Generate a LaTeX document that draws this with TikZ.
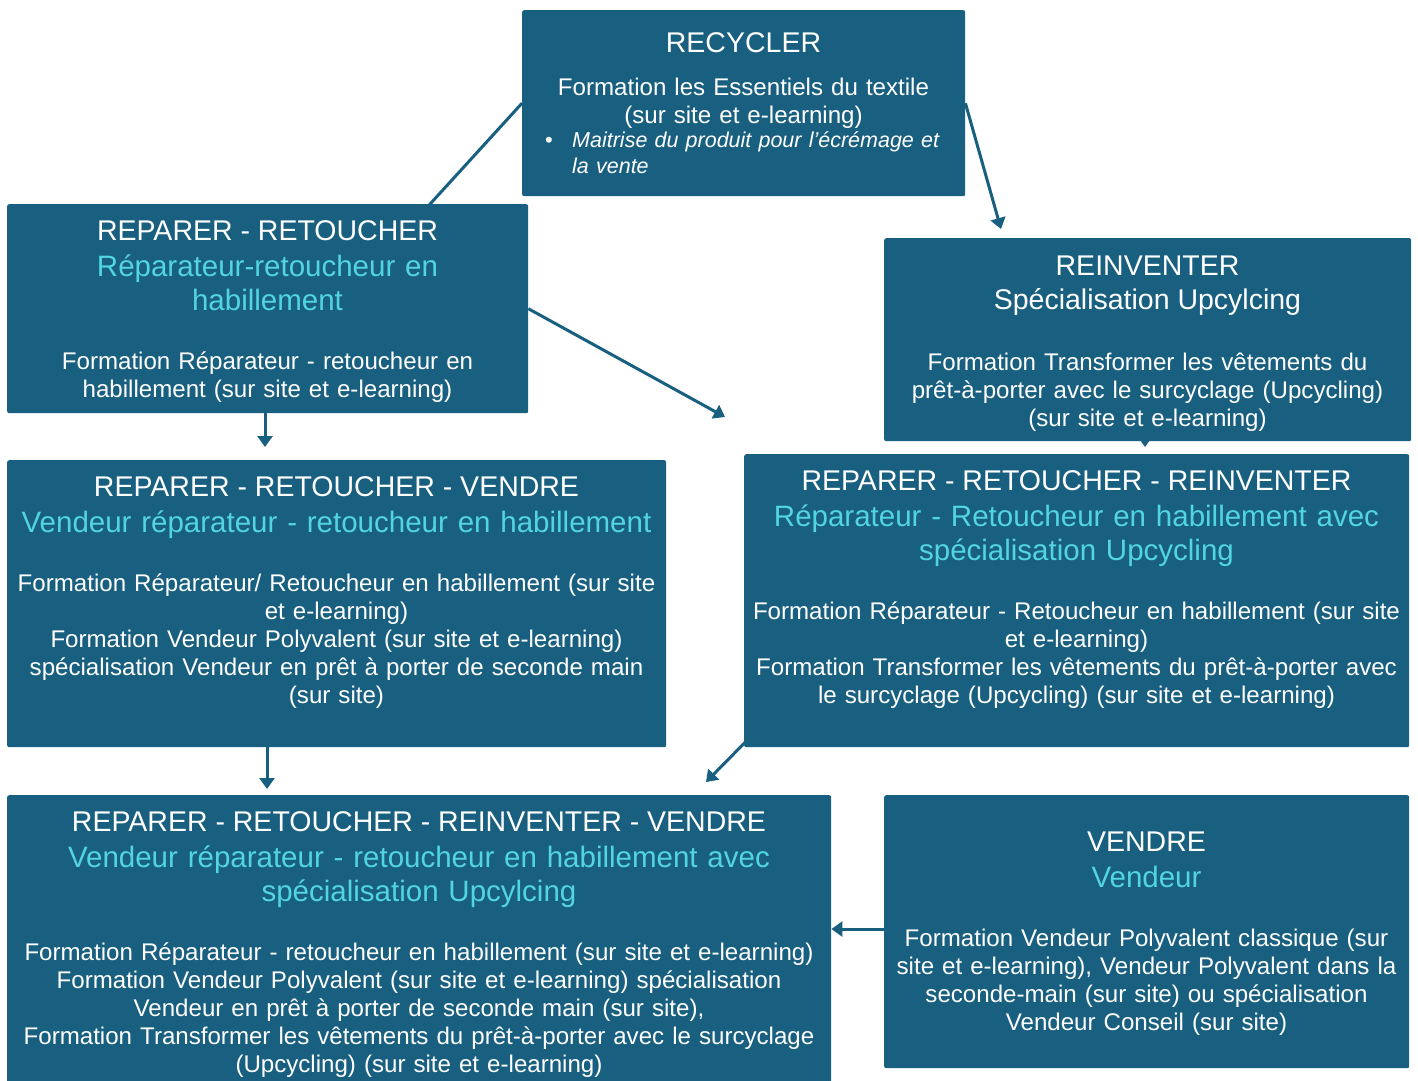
\documentclass[tikz,border=0pt]{standalone}
\usepackage{fontspec}
\setmainfont{Liberation Sans}
\usetikzlibrary{arrows.meta,backgrounds}
\definecolor{boxc}{HTML}{185F80}
\definecolor{cyanc}{HTML}{52D5E0}
\tikzset{
  box/.style={fill=boxc, draw=none, rounded corners=2pt, inner sep=0pt, anchor=north west},
  ttl/.style={text=white, font=\fontsize{28.5}{34}\selectfont, inner sep=0pt, anchor=base},
  sub/.style={text=cyanc, font=\fontsize{29.5}{34}\selectfont, inner sep=0pt, anchor=base, text width=900pt, align=center},
  bodytxt/.style={text=white, font=\fontsize{24.1}{28}\selectfont, inner sep=0pt, anchor=base, text width=900pt, align=center},
  conn/.style={draw=boxc, line width=3pt, -{Triangle[length=11pt,width=15pt]}},
  plainconn/.style={draw=boxc, line width=3pt}
}
\begin{document}
\begin{tikzpicture}[x=1pt,y=-1pt]
\useasboundingbox (0,0) rectangle (1418,1080);
% boxes
\node[box, minimum width=443pt, minimum height=186pt] (rec) at (522,10) {};
\node[box, minimum width=521pt, minimum height=209pt] (rr) at (7,204) {};
\node[box, minimum width=527pt, minimum height=203pt] (reinv) at (884,238) {};
\node[box, minimum width=659pt, minimum height=287pt] (rrv) at (7,460) {};
\node[box, minimum width=665pt, minimum height=293pt] (rrr) at (744,454) {};
\node[box, minimum width=824pt, minimum height=290pt] (rrrv) at (7,795) {};
\node[box, minimum width=525pt, minimum height=273pt] (vendre) at (884,795) {};
% free ends
\coordinate (recleft) at (400,237);
\coordinate (recright) at (1001,229);
\coordinate (rrright) at (725,417);
\coordinate (rrdown) at (265,447);
\coordinate (reinvdown) at (1145,447);
\coordinate (rrvdown) at (267,789);
\coordinate (rrrdown) at (706,782);
\begin{scope}[on background layer]
\draw[plainconn] (rec.west) -- (recleft);
\draw[conn] (rec.east) -- (recright);
\draw[conn] (rr.east) -- (rrright);
\draw[conn] (rr.south -| rrdown) -- (rrdown);
\draw[conn] (reinv.south -| reinvdown) -- (reinvdown);
\draw[conn] (rrv.south -| rrvdown) -- (rrvdown);
\draw[conn] ([xshift=4pt,yshift=8pt]rrr.south west) -- (rrrdown);
\draw[conn] (vendre.west |- 0,929) -- (rrrv.east |- 0,929);
\end{scope}
% RECYCLER
\node[ttl] (rect) at (743.5,52) {RECYCLER};
\node[bodytxt] (recb) at (743.5,95) {Formation les Essentiels du textile\\(sur site et e-learning)};
\node[text=white, font=\fontsize{22}{26}\selectfont, inner sep=0pt, anchor=base] (recbul) at (549,147) {•};
\node[text=white, font=\fontsize{21.5}{26}\selectfont\itshape, inner sep=0pt, anchor=base west, text width=390pt, align=left] (recit) at (572,147) {Maitrise du produit pour l’écrémage et\\la vente};
% REPARER - RETOUCHER
\node[ttl] (rrt) at (267.5,240) {REPARER - RETOUCHER};
\node[sub] (rrs) at (267.5,276) {Réparateur-retoucheur en\\habillement};
\node[bodytxt] (rrb) at (267.5,369) {Formation Réparateur - retoucheur en\\habillement (sur site et e-learning)};
% REINVENTER
\node[ttl] (reinvt) at (1147.5,275) {REINVENTER};
\node[ttl] (reinvs) at (1147.5,309) {Spécialisation Upcylcing};
\node[bodytxt] (reinvb) at (1147.5,370) {Formation Transformer les vêtements du\\prêt-à-porter avec le surcyclage (Upcycling)\\(sur site et e-learning)};
% RRV
\node[ttl] (rrvt) at (336.5,496) {REPARER - RETOUCHER - VENDRE};
\node[sub] (rrvs) at (336.5,532) {Vendeur réparateur - retoucheur en habillement};
\node[bodytxt] (rrvb) at (336.5,591) {Formation Réparateur/ Retoucheur en habillement (sur site\\et e-learning)\\Formation Vendeur Polyvalent (sur site et e-learning)\\spécialisation Vendeur en prêt à porter de seconde main\\(sur site)};
% RRR
\node[ttl] (rrrt) at (1076.5,490) {REPARER - RETOUCHER - REINVENTER};
\node[sub] (rrrs) at (1076.5,526) {Réparateur - Retoucheur en habillement avec\\spécialisation Upcycling};
\node[bodytxt] (rrrb) at (1076.5,619) {Formation Réparateur - Retoucheur en habillement (sur site\\et e-learning)\\Formation Transformer les vêtements du prêt-à-porter avec\\le surcyclage (Upcycling) (sur site et e-learning)};
% RRRV
\node[ttl] (rrrvt) at (419,831) {REPARER - RETOUCHER - REINVENTER - VENDRE};
\node[sub] (rrrvs) at (419,867) {Vendeur réparateur - retoucheur en habillement avec\\spécialisation Upcylcing};
\node[bodytxt] (rrrvb) at (419,960) {Formation Réparateur - retoucheur en habillement (sur site et e-learning)\\Formation Vendeur Polyvalent (sur site et e-learning) spécialisation\\Vendeur en prêt à porter de seconde main (sur site),\\Formation Transformer les vêtements du prêt-à-porter avec le surcyclage\\(Upcycling) (sur site et e-learning)};
% VENDRE
\node[ttl] (vendret) at (1146.5,851) {VENDRE};
\node[sub] (vendres) at (1146.5,887) {Vendeur};
\node[bodytxt] (vendreb) at (1146.5,946) {Formation Vendeur Polyvalent classique (sur\\site et e-learning), Vendeur Polyvalent dans la\\seconde-main (sur site) ou spécialisation\\Vendeur Conseil (sur site)};
\end{tikzpicture}
\end{document}
